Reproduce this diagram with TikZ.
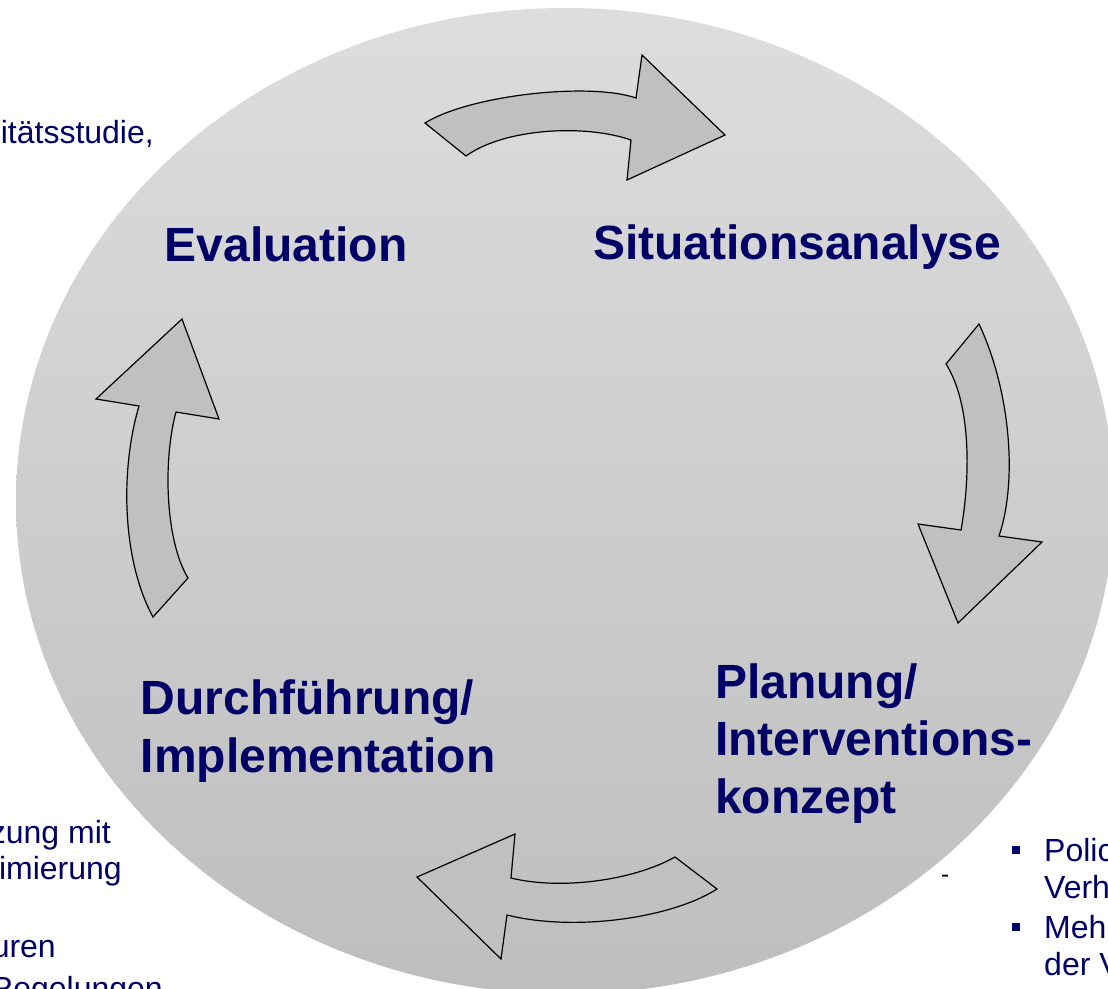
\documentclass[tikz,border=0pt]{standalone}
\usepackage{fontspec}
\setmainfont{Liberation Sans}
\definecolor{navy}{RGB}{0,0,102}
\definecolor{arrowgray}{RGB}{192,192,192}
\definecolor{disctop}{RGB}{221,221,221}
\definecolor{discbottom}{RGB}{190,190,190}

\begin{document}
\begin{tikzpicture}[x=1pt,y=-1pt,
  phase/.style={font=\fontsize{48}{57.5}\selectfont\bfseries,text=navy,
    align=left,inner sep=0pt,anchor=base west},
  side/.style={font=\fontsize{32}{36.5}\selectfont,text=navy,inner sep=0pt},
  bulletsq/.style={fill=navy,inner sep=0pt,minimum size=8pt},
  blockarrow/.style={fill=arrowgray,draw=black,line width=1.2pt}]
  \useasboundingbox (0,0) rectangle (1108,988);
  \clip (0,0) rectangle (1108,988);
  \shade[top color=disctop,bottom color=discbottom] (565,501) ellipse (549pt and 493pt);

  % the four phases
  \node[phase] (eval) at (164.5,261) {Evaluation};
  \node[phase] (situ) at (593,259) {Situationsanalyse};
  \node[phase] (plan) at (715,813) {Planung/\\Interventions-\\konzept};
  \node[phase] (impl) at (140.5,772) {Durchführung/\\Implementation};

  % curved block arrows between them
  \draw[blockarrow] (425,123) .. controls (470,95) and (590,82) .. (636,98)
    -- (642,55) -- (725,135) -- (627,180) -- (631,140)
    .. controls (585,124) and (505,128) .. (466,156) -- cycle;
  \draw[blockarrow] (979,324) .. controls (1010,390) and (1018,480) .. (999,536)
    -- (1042,542) -- (958,623) -- (918,524) -- (961,530)
    .. controls (970,480) and (972,405) .. (946,364) -- cycle;
  \draw[blockarrow] (717,889) .. controls (672,918) and (575,932) .. (507,915)
    -- (501,959) -- (417,877) -- (515,834) -- (511,878)
    .. controls (560,890) and (632,881) .. (675,857) -- cycle;
  \draw[blockarrow] (153,617) .. controls (122,560) and (120,470) .. (139,406)
    -- (96,399) -- (182,319) -- (219,419) -- (176,412)
    .. controls (163,460) and (165,540) .. (188,578) -- cycle;

  % texts cut by the page edge
  \node[side,anchor=base east] (lefta) at (154,143) {itätsstudie,};
  \node[side,anchor=base east] (leftb) at (111,843) {zung mit};
  \node[side,anchor=base east] (leftc) at (122,879) {imierung};
  \node[side,anchor=base east] (leftd) at (56,957) {uren};
  \node[side,anchor=base east] (lefte) at (163,999) {Regelungen};

  \node[bulletsq] (bulla) at (1016,850) {};
  \node[bulletsq] (bullb) at (1016,927) {};
  \node[side,anchor=base west,align=left] (righta) at (1044,898) {Polic\\Verh};
  \node[side,anchor=base west,align=left] (rightb) at (1044,975) {Meh\\der V};
  \node[inner sep=0pt,font=\fontsize{24}{28}\selectfont] (dash) at (945,879) {-};
\end{tikzpicture}
\end{document}
